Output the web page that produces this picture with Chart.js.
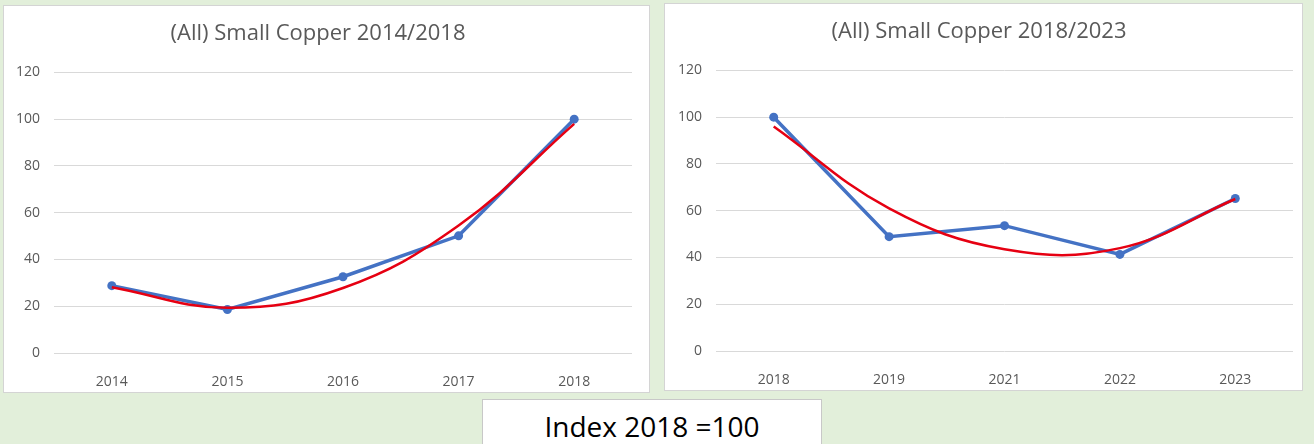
<!DOCTYPE html>
<html>
<head>
<meta charset="utf-8">
<script src="https://cdn.jsdelivr.net/npm/chart.js@4.4.1/dist/chart.umd.min.js"></script>
<style>
  html, body { margin: 0; padding: 0; }
  body { width: 1314px; height: 444px; background: #e2efda; position: relative; overflow: hidden; font-family: "Open Sans", sans-serif; }
  .panel { position: absolute; background: #fff; border: 1px solid #d4d4d4; box-sizing: border-box; }
  .panel canvas { position: absolute; left: 0; top: 0; }
  #left { left: 3px; top: 5px; width: 647px; height: 388px; }
  #right { left: 664px; top: 3px; width: 639px; height: 388px; }
  #note { position: absolute; left: 482px; top: 399px; width: 340px; height: 60px; background: #fff; border: 1px solid #c8c8c8; box-sizing: border-box;
          text-align: center; font-size: 28px; line-height: 52px; color: #000; }
</style>
</head>
<body>
<div class="panel" id="left"><canvas id="chart-left" width="647" height="388"></canvas></div>
<div class="panel" id="right"><canvas id="chart-right" width="639" height="388"></canvas></div>
<div id="note">Index 2018 =100</div>

<script>
// values (index, 2018 = 100)
const leftYears = ['2014', '2015', '2016', '2017', '2018'];
const leftIndex = [28.8, 18.6, 32.6, 50.1, 100];
const leftTrend = [28.1, 19.3, 27.8, 54.5, 98];

const rightYears = ['2018', '2019', '2021', '2022', '2023'];
const rightIndex = [100, 48.9, 53.6, 41.3, 65.2];
const rightTrend = [96, 61, 43.5, 44, 65];

const yMin = 0;
const yMax = 120;
const yStep = 20;

const TEXT = '#595959';
const BLUE = '#4472c4';
const RED = '#e60012';

function makeChart(id, title, labels, values, trend, yAxisWidth, rightPad) {
  const ctx = document.getElementById(id);
  return new Chart(ctx, {
    type: 'line',
    data: {
      labels: labels,
      datasets: [
        {
          label: 'Trend',
          data: trend,
          borderColor: RED,
          borderWidth: 2.5,
          pointRadius: 0,
          tension: 0.4,
          fill: false,
          order: 0
        },
        {
          label: 'Index',
          data: values,
          borderColor: BLUE,
          backgroundColor: BLUE,
          borderWidth: 3.5,
          pointRadius: 4.5,
          pointBorderWidth: 0,
          tension: 0,
          fill: false,
          order: 1
        }
      ]
    },
    options: {
      responsive: false,
      animation: false,
      layout: { padding: { left: 0, right: rightPad, top: 0, bottom: 0 } },
      plugins: {
        legend: { display: false },
        tooltip: { enabled: false },
        title: {
          display: true,
          text: title,
          color: TEXT,
          font: { family: 'Open Sans', size: 22, weight: 'normal', lineHeight: 1.2 },
          padding: { top: 15, bottom: 25 }
        }
      },
      scales: {
        x: {
          offset: true,
          grid: { display: false },
          border: { display: false },
          ticks: { color: TEXT, font: { family: 'Open Sans', size: 14 }, padding: 13 },
          afterFit: s => { s.height = 41; }
        },
        y: {
          min: yMin,
          max: yMax,
          grid: { color: '#d9d9d9', lineWidth: 1, drawTicks: false },
          border: { display: false },
          ticks: { stepSize: yStep, color: TEXT, font: { family: 'Open Sans', size: 14 }, padding: 14 },
          afterFit: s => { s.width = yAxisWidth; }
        }
      }
    }
  });
}

makeChart('chart-left', '(All) Small Copper 2014/2018', leftYears, leftIndex, leftTrend, 50, 19);
makeChart('chart-right', '(All) Small Copper 2018/2023', rightYears, rightIndex, rightTrend, 51, 11);
</script>
</body>
</html>
